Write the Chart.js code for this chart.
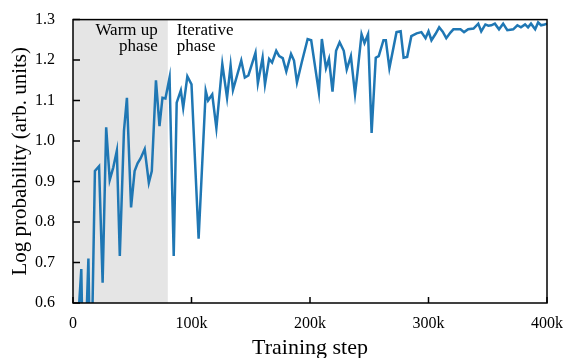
<!DOCTYPE html>
<html>
<head>
<meta charset="utf-8">
<script src="https://cdn.jsdelivr.net/npm/chart.js@4/dist/chart.umd.min.js"></script>
<style>
  body { margin: 0; background: #fff; }
  canvas { display: block; }
</style>
</head>
<body>
<canvas id="logprob-chart" width="566" height="358"></canvas>
<script>
// training steps (in thousands) and log probability
const steps = [
    0, 7, 9, 13, 15, 18.5, 22, 25, 28, 31,
    34, 37, 39.5, 43, 45.5, 49, 52, 54.5, 57, 60.5,
    64, 66.5, 70, 73, 75.5, 78, 81.5, 85, 87.5, 91,
    93, 96.5, 100, 106, 112, 114, 117.5, 121, 126, 130,
    133, 135, 142, 145, 148, 154, 156, 160, 162, 165.5,
    168, 171.5, 174, 177, 180, 184, 186.5, 189, 193, 198,
    201, 207.5, 210, 213.5, 216, 219, 222, 225, 228.5, 231,
    234.5, 238, 240, 243.5, 246, 249, 252, 255.5, 258, 262,
    264, 267, 273, 276.5, 279, 282, 285.5, 290, 294, 297.5,
    300, 302.5, 306, 309, 312, 315, 318.5, 321, 324.5, 327,
    330, 333.5, 338, 342, 344.5, 348, 350.5, 353, 356, 359.5,
    363, 366.5, 369, 371.5, 375, 378, 381.5, 384, 386.5, 390,
    392.5, 395, 398, 400
];
const logProb = [
    0.35, 0.684, 0.35, 0.71, 0.35, 0.926, 0.938, 0.65, 1.034, 0.904,
    0.935, 0.976, 0.716, 1.025, 1.107, 0.836, 0.926, 0.945, 0.957, 0.98,
    0.897, 0.926, 1.15, 1.037, 1.107, 1.105, 1.157, 0.716, 1.095, 1.125,
    1.082, 1.16, 1.14, 0.759, 1.124, 1.10, 1.115, 1.032, 1.19, 1.107,
    1.187, 1.126, 1.199, 1.157, 1.162, 1.218, 1.143, 1.206, 1.14, 1.203,
    1.194, 1.223, 1.21, 1.205, 1.172, 1.215, 1.199, 1.145, 1.194, 1.252,
    1.249, 1.12, 1.252, 1.18, 1.203, 1.122, 1.223, 1.244, 1.223, 1.177,
    1.21, 1.116, 1.167, 1.264, 1.242, 1.264, 1.02, 1.206, 1.21, 1.249,
    1.249, 1.18, 1.269, 1.271, 1.206, 1.208, 1.259, 1.266, 1.269, 1.254,
    1.271, 1.249, 1.265, 1.281, 1.27, 1.254, 1.268, 1.276, 1.276, 1.276,
    1.269, 1.276, 1.278, 1.29, 1.271, 1.288, 1.285, 1.286, 1.29, 1.276,
    1.29, 1.274, 1.275, 1.276, 1.286, 1.281, 1.288, 1.281, 1.29, 1.276,
    1.293, 1.286, 1.288, 1.29
];
const xTicks = [0, 100, 200, 300, 400];
const yTicks = [0.6, 0.7, 0.8, 0.9, 1.0, 1.1, 1.2, 1.3];
const warmupEnd = 80;   // end of the warm up phase (k steps)

const serif = "'Liberation Serif', 'Times New Roman', serif";

// grey band, frame, inward ticks and the phase labels
const decorations = {
    id: "decorations",
    beforeDatasetsDraw(chart) {
        const { ctx, chartArea: a, scales: { x } } = chart;
        ctx.save();
        ctx.fillStyle = "#e5e5e5";
        const x1 = x.getPixelForValue(warmupEnd);
        ctx.fillRect(a.left, a.top, x1 - a.left, a.bottom - a.top);
        ctx.restore();
    },
    afterDatasetsDraw(chart) {
        const { ctx, chartArea: a, scales: { x, y } } = chart;
        ctx.save();
        ctx.strokeStyle = "#000";
        ctx.lineWidth = 1.5;
        ctx.strokeRect(a.left, a.top, a.right - a.left, a.bottom - a.top);

        ctx.beginPath();
        xTicks.forEach(v => {
            const px = x.getPixelForValue(v);
            ctx.moveTo(px, a.bottom);
            ctx.lineTo(px, a.bottom - 6);
        });
        yTicks.forEach(v => {
            const py = y.getPixelForValue(v);
            ctx.moveTo(a.left, py);
            ctx.lineTo(a.left + 7, py);
        });
        ctx.stroke();

        ctx.fillStyle = "#000";
        ctx.font = "17px " + serif;
        ctx.textBaseline = "alphabetic";
        const xe = x.getPixelForValue(warmupEnd);
        ctx.textAlign = "right";
        ctx.fillText("Warm up", xe - 10, 35);
        ctx.fillText("phase", xe - 10, 51);
        ctx.textAlign = "left";
        ctx.fillText("Iterative", xe + 9, 35);
        ctx.fillText("phase", xe + 9, 51);
        ctx.restore();
    }
};

const ctx = document.getElementById("logprob-chart").getContext("2d");

new Chart(ctx, {
    type: "line",
    data: {
        datasets: [{
            data: steps.map((s, i) => ({ x: s, y: logProb[i] })),
            borderColor: "#1f77b4",
            borderWidth: 2.5,
            pointRadius: 0,
            tension: 0,
            fill: false
        }]
    },
    options: {
        responsive: false,
        animation: false,
        layout: { padding: { top: 13, right: 17, left: 0, bottom: 0 } },
        plugins: {
            legend: { display: false },
            tooltip: { enabled: false }
        },
        scales: {
            x: {
                type: "linear",
                min: 0,
                max: 400,
                afterFit: s => { s.height = 55; },
                afterBuildTicks: s => { s.ticks = xTicks.map(v => ({ value: v })); },
                grid: { display: false },
                border: { display: false },
                ticks: {
                    color: "#000",
                    font: { family: serif, size: 16 },
                    padding: 3,
                    maxRotation: 0,
                    callback: v => (v === 0 ? "0" : v + "k")
                },
                title: {
                    display: true,
                    text: "Training step",
                    color: "#000",
                    font: { family: serif, size: 22, lineHeight: 0.85 },
                    padding: { top: 0, bottom: 0 }
                }
            },
            y: {
                min: 0.6,
                max: 1.3,
                afterFit: s => { s.width = 73; },
                afterBuildTicks: s => { s.ticks = yTicks.map(v => ({ value: v })); },
                grid: { display: false },
                border: { display: false },
                ticks: {
                    color: "#000",
                    font: { family: serif, size: 16 },
                    padding: 10,
                    callback: v => v.toFixed(1)
                },
                title: {
                    display: true,
                    text: "Log probability (arb. units)",
                    color: "#000",
                    font: { family: serif, size: 21 },
                    padding: { top: 8, bottom: 0 }
                }
            }
        }
    },
    plugins: [decorations]
});
</script>
</body>
</html>
